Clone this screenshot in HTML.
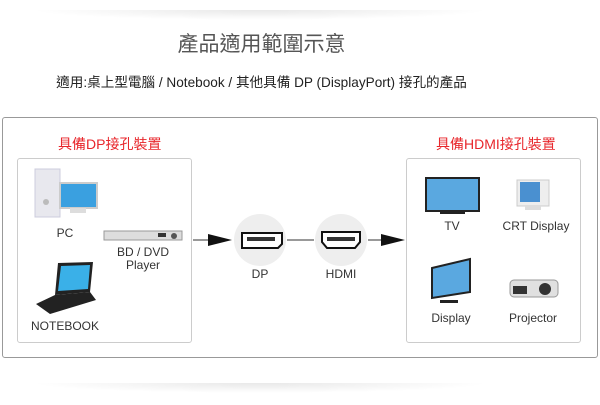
<!DOCTYPE html>
<html><head><meta charset="utf-8"><style>
body{margin:0;width:600px;height:405px;background:#fff;position:relative;overflow:hidden;font-family:"Liberation Sans","Noto Sans CJK TC",sans-serif;}
.a{position:absolute;}
.t{position:absolute;font-size:12px;color:#333;text-align:center;white-space:nowrap;}
</style></head><body>
<div class="a" style="left:30px;top:10px;width:460px;height:10px;background:radial-gradient(ellipse at center top,rgba(0,0,0,0.09),rgba(0,0,0,0) 70%);"></div>
<div class="a" style="left:30px;top:383px;width:460px;height:10px;background:radial-gradient(ellipse at center top,rgba(0,0,0,0.09),rgba(0,0,0,0) 70%);"></div>
<div class="t" style="left:0;width:523px;top:28px;font-size:21px;color:#555;">產品適用範圍示意</div>
<div class="t" style="left:0;width:523px;top:71px;font-size:13.6px;color:#222;">適用:桌上型電腦 / Notebook / 其他具備 DP (DisplayPort) 接孔的產品</div>
<div class="a" style="left:2px;top:117px;width:594px;height:239px;border:1px solid #999;border-radius:3px;"></div>
<div class="a" style="left:17px;top:158px;width:173px;height:183px;border:1px solid #ccc;border-radius:3px;"></div>
<div class="a" style="left:406px;top:158px;width:173px;height:183px;border:1px solid #ccc;border-radius:3px;"></div>
<div class="t" style="left:58px;width:140px;top:134px;font-size:14px;color:#e8262b;text-align:left;">具備DP接孔裝置</div>
<div class="t" style="left:436px;width:140px;top:134px;font-size:14px;color:#e8262b;text-align:left;">具備HDMI接孔裝置</div>
<svg class="a" style="left:0;top:0" width="600" height="405">
<rect x="35" y="169" width="25" height="48" fill="#e8e8ee" stroke="#ccd" />
<circle cx="46" cy="202" r="3" fill="#bbb"/>
<rect x="60" y="183" width="37" height="25" fill="#3aa0e0" stroke="#ccc" stroke-width="2"/>
<rect x="70" y="208" width="16" height="5" fill="#ddd"/>
<rect x="104" y="231" width="78" height="9" fill="#ddd" stroke="#999"/>
<rect x="158" y="233" width="8" height="4" fill="#333"/>
<circle cx="174" cy="236" r="3" fill="#555"/>
<polygon points="58,263 93,262 90,292 55,295" fill="#222"/>
<polygon points="61,266 90,265 88,289 58,291" fill="#3ab0e8"/>
<polygon points="55,295 90,292 96,300 50,314 36,304" fill="#222"/>
<line x1="193" y1="240" x2="212" y2="240" stroke="#333"/>
<polygon points="208,234 232,240 208,246" fill="#111"/>
<line x1="287" y1="240" x2="314" y2="240" stroke="#333"/>
<line x1="368" y1="240" x2="385" y2="240" stroke="#333"/>
<polygon points="381,234 405,240 381,246" fill="#111"/>
<circle cx="260" cy="240" r="26" fill="#eeeeee"/>
<circle cx="341" cy="240" r="26" fill="#eeeeee"/>
<polygon points="242,233 282,233 282,244 278,248 242,248" fill="#fff" stroke="#111" stroke-width="2"/>
<rect x="247" y="237" width="28" height="4" fill="#333"/>
<polygon points="322,232 360,232 360,242 355,248 327,248 322,242" fill="#fff" stroke="#111" stroke-width="2"/>
<rect x="327" y="237" width="28" height="4" fill="#333"/>
<rect x="426" y="178" width="53" height="33" fill="#5aa8e0" stroke="#222" stroke-width="2"/>
<rect x="440" y="211" width="25" height="3" fill="#222"/>
<rect x="517" y="180" width="32" height="26" fill="#eee" stroke="#ccc"/>
<rect x="520" y="182" width="20" height="20" fill="#4a90d0"/>
<rect x="525" y="206" width="16" height="4" fill="#ddd"/>
<polygon points="432,268 470,259 470,292 432,298" fill="#5aa8e0" stroke="#222" stroke-width="2"/>
<rect x="440" y="300" width="18" height="3" fill="#222"/>
<rect x="510" y="280" width="48" height="17" rx="4" fill="#e0e0e0" stroke="#999"/>
<rect x="513" y="286" width="14" height="8" fill="#333"/>
<circle cx="545" cy="289" r="6" fill="#333"/>
</svg>
<div class="t" style="left:50px;width:30px;top:226px;">PC</div>
<div class="t" style="left:108px;width:70px;top:246px;line-height:13px;">BD / DVD<br>Player</div>
<div class="t" style="left:25px;width:80px;top:319px;">NOTEBOOK</div>
<div class="t" style="left:240px;width:40px;top:267px;">DP</div>
<div class="t" style="left:316px;width:50px;top:267px;">HDMI</div>
<div class="t" style="left:432px;width:40px;top:219px;">TV</div>
<div class="t" style="left:496px;width:80px;top:219px;">CRT Display</div>
<div class="t" style="left:421px;width:60px;top:311px;">Display</div>
<div class="t" style="left:503px;width:60px;top:311px;">Projector</div>
</body></html>
